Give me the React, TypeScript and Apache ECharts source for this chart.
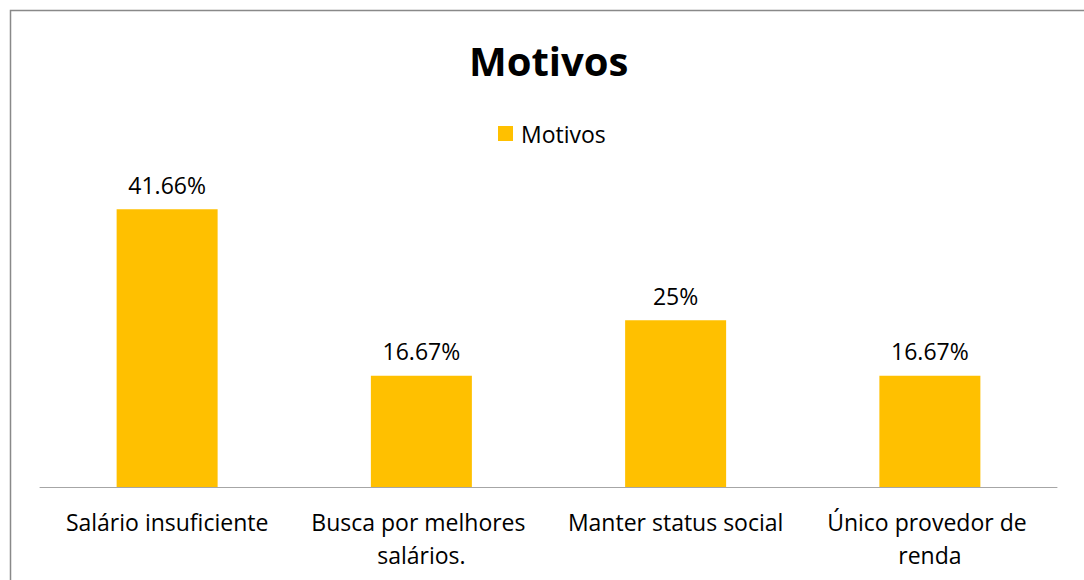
import React, { useEffect, useRef } from "react";
import * as echarts from "echarts";

const categories = [
  "Salário insuficiente",
  "Busca por melhores salários.",
  "Manter status social",
  "Único provedor de renda",
];
const values = [41.66, 16.67, 25, 16.67];
const valueLabels = ["41.66%", "16.67%", "25%", "16.67%"];
const seriesName = "Motivos";
const titleText = "Motivos";

export default function App() {
  const ref = useRef<HTMLDivElement>(null);
  useEffect(() => {
    if (!ref.current) return;
    const chart = echarts.init(ref.current, null, { renderer: "svg" });
    const font = "'Open Sans', sans-serif";
    chart.setOption({
      animation: false,
      backgroundColor: "#ffffff",
      textStyle: { fontFamily: font },
      title: {
        text: titleText,
        left: 464,
        top: 35,
        textStyle: { fontFamily: font, fontSize: 40, fontWeight: "bold", color: "#000" },
      },
      legend: {
        data: [seriesName],
        top: 117,
        left: 493,
        icon: "rect",
        itemWidth: 15,
        itemHeight: 15,
        itemGap: 8,
        textStyle: { fontFamily: font, fontSize: 23, color: "#000", padding: [0, 0, 0, 3] },
      },
      graphic: [
        {
          type: "rect",
          shape: { x: 10.5, y: 10.5, width: 1200, height: 800 },
          style: { fill: "none", stroke: "#898989", lineWidth: 1.5 },
          silent: true,
        },
      ],
      grid: { left: 40, right: 27, top: 187, bottom: 93, containLabel: false },
      xAxis: {
        type: "category",
        data: categories,
        axisLine: { show: true, lineStyle: { color: "#a6a6a6", width: 1 } },
        axisTick: { show: false },
        axisLabel: {
          interval: 0,
          margin: 18,
          fontFamily: font,
          fontSize: 23,
          color: "#000",
          width: 238,
          overflow: "break",
          lineHeight: 33,
        },
      },
      yAxis: {
        type: "value",
        min: 0,
        max: 45,
        show: false,
        splitLine: { show: false },
      },
      series: [
        {
          name: seriesName,
          type: "bar",
          data: values,
          barWidth: 101,
          itemStyle: { color: "#FFC000" },
          label: {
            show: true,
            position: "top",
            distance: 13,
            fontFamily: font,
            fontSize: 23,
            color: "#000",
            formatter: (p: any) => valueLabels[p.dataIndex],
          },
        },
      ],
    });
    return () => chart.dispose();
  }, []);
  return (
    <div
      ref={ref}
      style={{ position: "fixed", left: 0, top: 0, width: 1084, height: 580 }}
    />
  );
}
